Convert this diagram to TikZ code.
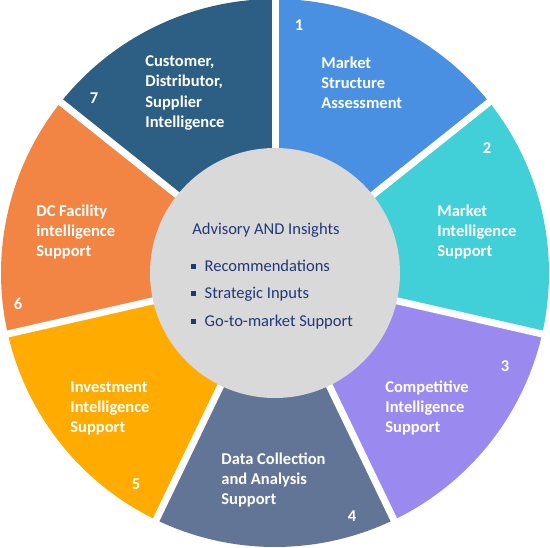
\documentclass[tikz,border=0pt]{standalone}
\usepackage{fontspec}
\setmainfont{Carlito}
\definecolor{segA}{RGB}{74,144,226}
\definecolor{segB}{RGB}{65,207,216}
\definecolor{segC}{RGB}{154,138,240}
\definecolor{segD}{RGB}{98,117,151}
\definecolor{segE}{RGB}{255,171,0}
\definecolor{segF}{RGB}{242,132,68}
\definecolor{segG}{RGB}{45,94,132}
\definecolor{hub}{RGB}{217,217,217}
\definecolor{navy}{RGB}{31,56,120}
\newcommand{\sqbul}{\raisebox{1.5pt}{\rule{2.6pt}{2.6pt}}\hspace{5pt}}
\tikzset{
  seglabel/.style={anchor=west,align=left,text=white,inner sep=0pt,
    font=\fontsize{9.4}{11.4}\selectfont\bfseries},
  segnum/.style={text=white,inner sep=0pt,font=\fontsize{9.4}{11.4}\selectfont\bfseries},
  hubtext/.style={anchor=west,text=navy,inner sep=0pt,font=\fontsize{9.4}{11.4}\selectfont}
}
\begin{document}
\begin{tikzpicture}[x=0.02cm,y=0.02cm]
\useasboundingbox (-275,-274) rectangle (275,273);
% ring segments
\foreach \a/\c [count=\i] in {90/segA,38.571/segB,-12.857/segC,-64.286/segD,-115.714/segE,-167.143/segF,-218.571/segG}
  \fill[\c] (0,0) -- (\a:274) arc[start angle=\a, end angle=\a-51.429, radius=274] -- cycle;
% white gaps
\foreach \a in {90,38.571,-12.857,-64.286,-115.714,-167.143,-218.571}
  \draw[white,line width=0.14cm] (0,0) -- (\a:280);
% hub
\node[circle,fill=hub,minimum size=250*0.02cm,inner sep=0pt] (hub) at (0,0) {};
\node[hubtext] (title) at (-83,43) {Advisory AND Insights};
\node[hubtext] (adv1) at (-84,7) {\sqbul Recommendations};
\node[hubtext] (adv2) at (-84,-21) {\sqbul Strategic Inputs};
\node[hubtext] (adv3) at (-84,-49) {\sqbul Go-to-market Support};
% labels
\node[seglabel] (l1) at (46,190) {Market\\Structure\\Assessment};
\node[seglabel] (l2) at (162,41) {Market\\Intelligence\\Support};
\node[seglabel] (l3) at (110,-135) {Competitive\\Intelligence\\Support};
\node[seglabel] (l4) at (-54,-207) {Data Collection\\and Analysis\\Support};
\node[seglabel] (l5) at (-205,-135) {Investment\\Intelligence\\Support};
\node[seglabel] (l6) at (-239,41) {DC Facility\\intelligence\\Support};
\node[seglabel] (l7) at (-130,180) {Customer,\\Distributor,\\Supplier\\Intelligence};
% numbers
\node[segnum] (n1) at (24,248) {1};
\node[segnum] (n2) at (212,125) {2};
\node[segnum] (n3) at (230,-93) {3};
\node[segnum] (n4) at (77,-243) {4};
\node[segnum] (n5) at (-139,-211) {5};
\node[segnum] (n6) at (-257,-31) {6};
\node[segnum] (n7) at (-181,175) {7};
\end{tikzpicture}
\end{document}
